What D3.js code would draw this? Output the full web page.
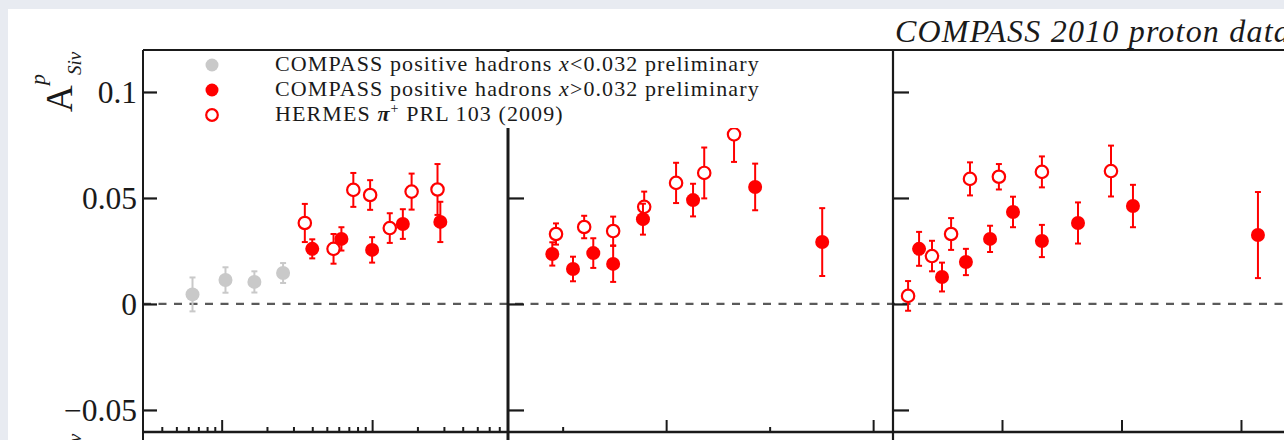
<!DOCTYPE html>
<html>
<head>
<meta charset="utf-8">
<script src="https://cdn.jsdelivr.net/npm/d3@7"></script>
<style>
  html, body { margin: 0; padding: 0; background: #e8ebf1; }
  svg { display: block; }
  text { font-family: "Liberation Serif", "Times New Roman", serif; fill: #1a1a1a; }
</style>
</head>
<body>
<div id="chart"></div>
<script>
// ---- data ----
// panel 1: asymmetry vs x (log scale)
var xLowX = [0.0064, 0.0106, 0.0165, 0.0256];
var xLowA = [0.0045, 0.0113, 0.0104, 0.0146];
var xLowErr = [0.008, 0.006, 0.005, 0.0047];

var xHighX = [0.040, 0.0625, 0.100, 0.160, 0.284];
var xHighA = [0.026, 0.0307, 0.0255, 0.0377, 0.0387];
var xHighErr = [0.0045, 0.0055, 0.006, 0.007, 0.0095];

var hermesX = [0.0357, 0.0554, 0.075, 0.097, 0.131, 0.183, 0.272];
var hermesXA = [0.0382, 0.026, 0.0538, 0.0514, 0.0358, 0.053, 0.054];
var hermesXErr = [0.009, 0.007, 0.008, 0.007, 0.007, 0.0085, 0.012];

// panel 2: asymmetry vs z
var compassZ = [0.225, 0.275, 0.324, 0.372, 0.444, 0.565, 0.715, 0.877];
var compassZA = [0.0236, 0.0165, 0.024, 0.0189, 0.040, 0.049, 0.0552, 0.0292];
var compassZErr = [0.0055, 0.0058, 0.007, 0.0085, 0.0073, 0.0077, 0.011, 0.016];

var hermesZ = [0.234, 0.302, 0.372, 0.447, 0.524, 0.592, 0.664];
var hermesZA = [0.033, 0.0363, 0.0344, 0.0458, 0.0571, 0.0618, 0.080];
var hermesZErr = [0.005, 0.0053, 0.0068, 0.0072, 0.0095, 0.012, 0.013];

// panel 3: asymmetry vs pT
var compassPt = [0.153, 0.249, 0.349, 0.450, 0.546, 0.667, 0.818, 1.048, 1.571];
var compassPtA = [0.026, 0.0127, 0.0198, 0.0307, 0.0434, 0.0297, 0.0382, 0.0462, 0.0325];
var compassPtErr = [0.008, 0.0068, 0.0062, 0.0062, 0.0072, 0.0076, 0.0097, 0.010, 0.0203];

var hermesPt = [0.107, 0.207, 0.287, 0.366, 0.487, 0.667, 0.956];
var hermesPtA = [0.0038, 0.0226, 0.033, 0.059, 0.060, 0.0623, 0.0627];
var hermesPtErr = [0.007, 0.0072, 0.0075, 0.0078, 0.006, 0.0073, 0.012];

// axis ticks
var yTicks = [0.1, 0.05, 0, -0.05];
var yTickLabels = ["0.1", "0.05", "0", "\u22120.05"];
var zMajor = [0.5, 1.0];
var zMinor = [0.25, 0.75];
var ptMajor = [0.5, 1.0, 1.5];

var legendLabels = [
    "COMPASS positive hadrons x<0.032 preliminary",
    "COMPASS positive hadrons x>0.032 preliminary",
    "HERMES \u03c0+ PRL 103 (2009)"
];
var titleText = "COMPASS 2010 proton data";

// ---- dimensions ----
var svgWidth = 1284;
var svgHeight = 440;
var frameTop = 50, frameBottom = 432;
var p1 = [143, 508], p2 = [508, 893], p3 = [893, 1284];
var red = "#ff0000", grey = "#c9c9c9", ink = "#1a1a1a";

var svg = d3.select("#chart")
    .append("svg")
    .attr("width", svgWidth)
    .attr("height", svgHeight);

// white sheet on the page background
svg.append("rect")
    .attr("x", 8).attr("y", 9)
    .attr("width", svgWidth - 8).attr("height", svgHeight - 9)
    .attr("fill", "#fff");

// scales
var yScale = d3.scaleLinear().domain([-0.0604, 0.1198]).range([frameBottom, frameTop]);
var xScale = d3.scaleLog().domain([0.003, 0.8]).range(p1);
var zScale = d3.scaleLinear().domain([0.118, 1.048]).range(p2);
var ptScale = d3.scaleLinear().domain([0.0439, 1.68]).range(p3);

// dashed zero line
svg.append("line")
    .attr("x1", p1[0]).attr("x2", svgWidth)
    .attr("y1", yScale(0)).attr("y2", yScale(0))
    .attr("stroke", "#5a5a5a")
    .attr("stroke-width", 2.2)
    .attr("stroke-dasharray", "8,7.5");

// bottom ticks (pointing up into the frame)
function bottomTicks(scale, values, size) {
    var g = svg.append("g")
        .attr("transform", `translate(0, ${frameBottom})`)
        .call(d3.axisTop(scale).tickValues(values).tickSize(size).tickFormat(""));
    g.select(".domain").remove();
    g.selectAll("line").attr("stroke", ink).attr("stroke-width", 2);
}
var xMinor = [];
[0.001, 0.01, 0.1].forEach(function (dec) {
    for (var k = 2; k <= 9; k++) {
        var v = dec * k;
        if (v > 0.003 && v < 0.8) xMinor.push(v);
    }
});
bottomTicks(xScale, [0.01, 0.1], 12);
bottomTicks(xScale, xMinor, 5);
bottomTicks(zScale, zMajor, 12);
bottomTicks(zScale, zMinor, 5);
bottomTicks(ptScale, ptMajor, 12);

// y ticks on each panel's left axis
[p1[0], p2[0], p3[0]].forEach(function (x0, i) {
    var g = svg.append("g")
        .attr("transform", `translate(${x0}, 0)`)
        .call(d3.axisRight(yScale).tickValues(yTicks).tickSize(i == 0 ? 14 : 16).tickFormat(""));
    g.select(".domain").remove();
    g.selectAll("line").attr("stroke", ink).attr("stroke-width", 2.2);
});

// tick labels
svg.selectAll(".ylabel")
    .data(yTicks)
    .enter()
    .append("text")
    .attr("class", "ylabel")
    .attr("x", 137)
    .attr("y", d => yScale(d))
    .attr("dy", "0.35em")
    .attr("text-anchor", "end")
    .style("font-size", "31.5px")
    .text((d, i) => yTickLabels[i]);

// error bars + markers
function drawSeries(scale, xs, ys, errs, kind) {
    var color = kind == "grey" ? grey : red;
    var g = svg.append("g");
    var pts = xs.map((x, i) => ({ x: x, y: ys[i], e: errs[i] }));
    var bars = g.selectAll("g").data(pts).enter().append("g");
    bars.append("line")
        .attr("x1", d => scale(d.x)).attr("x2", d => scale(d.x))
        .attr("y1", d => yScale(d.y + d.e)).attr("y2", d => yScale(d.y - d.e))
        .attr("stroke", color).attr("stroke-width", 2);
    [1, -1].forEach(function (s) {
        bars.append("line")
            .attr("x1", d => scale(d.x) - 3).attr("x2", d => scale(d.x) + 3)
            .attr("y1", d => yScale(d.y + s * d.e)).attr("y2", d => yScale(d.y + s * d.e))
            .attr("stroke", color).attr("stroke-width", 2);
    });
    bars.append("circle")
        .attr("cx", d => scale(d.x))
        .attr("cy", d => yScale(d.y))
        .attr("r", kind == "open" ? 6.2 : 7)
        .attr("fill", kind == "open" ? "#fff" : color)
        .attr("stroke", kind == "open" ? red : "none")
        .attr("stroke-width", 2.2);
}
drawSeries(xScale, xLowX, xLowA, xLowErr, "grey");
drawSeries(xScale, hermesX, hermesXA, hermesXErr, "open");
drawSeries(xScale, xHighX, xHighA, xHighErr, "filled");
drawSeries(zScale, hermesZ, hermesZA, hermesZErr, "open");
drawSeries(zScale, compassZ, compassZA, compassZErr, "filled");
drawSeries(ptScale, hermesPt, hermesPtA, hermesPtErr, "open");
drawSeries(ptScale, compassPt, compassPtA, compassPtErr, "filled");

// frame lines
function frameLine(x1, y1, x2, y2, w) {
    svg.append("line")
        .attr("x1", x1).attr("y1", y1).attr("x2", x2).attr("y2", y2)
        .attr("stroke", ink).attr("stroke-width", w);
}
frameLine(p1[0], frameTop, svgWidth, frameTop, 2);
frameLine(p1[0], frameBottom, svgWidth, frameBottom, 2.5);
frameLine(p1[0], frameTop, p1[0], svgHeight, 2);
frameLine(p2[0], frameTop, p2[0], svgHeight, 3);
frameLine(p3[0], frameTop, p3[0], svgHeight, 2.2);

// legend on a white box (hides the top of panel 2's axis)
var legend = svg.append("g");
legend.append("rect")
    .attr("x", 162).attr("y", 52)
    .attr("width", 612).attr("height", 76)
    .attr("fill", "#fff");
var legendY = [65, 90, 115];
var kinds = ["grey", "filled", "open"];
kinds.forEach(function (k, i) {
    legend.append("circle")
        .attr("cx", 212).attr("cy", legendY[i])
        .attr("r", k == "open" ? 5.8 : 6.5)
        .attr("fill", k == "open" ? "#fff" : (k == "grey" ? grey : red))
        .attr("stroke", k == "open" ? red : "none")
        .attr("stroke-width", 2.2);
});
legendLabels.forEach(function (lab, i) {
    var t = legend.append("text")
        .attr("x", 275).attr("y", legendY[i] + 6)
        .style("font-size", "22px")
        .style("letter-spacing", "1.1px");
    if (i < 2) {
        var parts = lab.split(" x");
        t.append("tspan").text(parts[0] + " ");
        t.append("tspan").style("font-style", "italic").text("x");
        t.append("tspan").text(parts[1]);
    } else {
        t.append("tspan").text("HERMES ");
        t.append("tspan").style("font-style", "italic").style("font-weight", "bold").text("\u03c0");
        t.append("tspan").attr("dy", -8).style("font-size", "14px").text("+");
        t.append("tspan").attr("dy", 8).text(" PRL 103 (2009)");
    }
});

// title
svg.append("text")
    .attr("x", 895).attr("y", 42)
    .style("font-size", "32px")
    .style("font-style", "italic")
    .style("letter-spacing", "1.2px")
    .text(titleText);

// y axis label A^p_Siv (second copy belongs to the row below)
[0, frameBottom - frameTop].forEach(function (dy) {
    var g = svg.append("g")
        .attr("transform", `translate(72, ${112 + dy}) rotate(-90)`);
    g.append("text").attr("x", 0).attr("y", 0)
        .style("font-size", "37px").text("A");
    g.append("text").attr("x", 27).attr("y", -27)
        .style("font-size", "22px").style("font-style", "italic").text("p");
    g.append("text").attr("x", 37).attr("y", 9)
        .style("font-size", "19px").style("font-style", "italic").text("Siv");
});
</script>
</body>
</html>
